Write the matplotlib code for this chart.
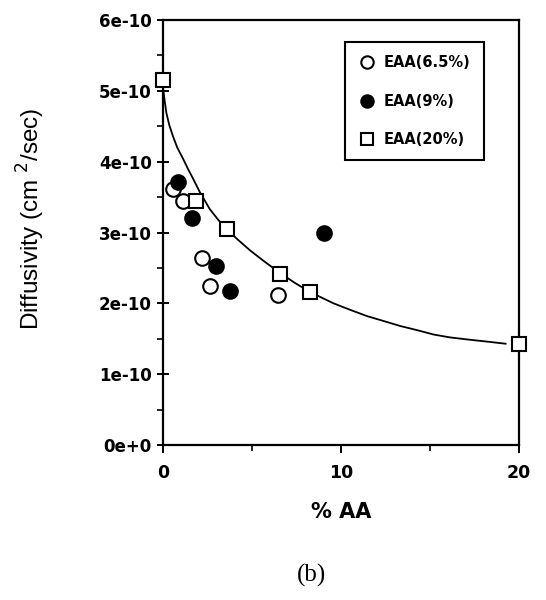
"""
Diffusivity vs % AA for three EAA grades, panel (b).
"""

import matplotlib

matplotlib.use("Agg")
import matplotlib.pyplot as plt

# Data, diffusivity in units of 1e-10 cm^2/sec
aa_65 = [0.56, 1.13, 2.22, 2.63, 6.48]
d_65 = [3.61, 3.44, 2.64, 2.25, 2.12]

aa_9 = [0.85, 1.65, 3.0, 3.76, 9.05]
d_9 = [3.71, 3.21, 2.53, 2.18, 2.99]

aa_20 = [0.0, 1.88, 3.57, 6.57, 8.26, 20.0]
d_20 = [5.15, 3.44, 3.05, 2.41, 2.16, 1.43]

# fitted curve as drawn in the figure
fit_aa = [0.0, 0.05, 0.1, 0.19, 0.35, 0.56, 0.8, 1.13, 1.4, 1.69, 2.07, 2.63,
          3.1, 3.57, 4.2, 4.88, 5.7, 6.57, 7.4, 8.26, 9.58, 10.5, 11.46, 12.4,
          13.33, 14.3, 15.2, 16.1, 17.1, 18.2, 19.25]
fit_d = [5.05, 4.95, 4.85, 4.69, 4.52, 4.36, 4.2, 4.04, 3.9, 3.76, 3.57, 3.33,
         3.18, 3.05, 2.9, 2.75, 2.59, 2.43, 2.29, 2.16, 2.0, 1.91, 1.82, 1.75,
         1.68, 1.62, 1.56, 1.52, 1.49, 1.46, 1.43]

# axis ticks
x_ticks = [0, 10, 20]
x_minor = [5, 15]
y_ticks = [0, 1, 2, 3, 4, 5, 6]
y_minor = [0.5, 1.5, 2.5, 3.5, 4.5, 5.5]
y_labels = ["0e+0", "1e-10", "2e-10", "3e-10", "4e-10", "5e-10", "6e-10"]

fig = plt.figure(figsize=(5.46, 6.0), dpi=100)
ax = fig.add_axes([0.2985, 0.2583, 0.652, 0.7084])

ax.plot(fit_aa, fit_d, color="black", lw=1.3, zorder=2)

mk = dict(markersize=10.5, markeredgewidth=1.5, markeredgecolor="black",
          linestyle="none", clip_on=False, zorder=3)
ax.plot(aa_65, d_65, marker="o", markerfacecolor="white",
        label="EAA(6.5%)", **mk)
ax.plot(aa_9, d_9, marker="o", markerfacecolor="black",
        label="EAA(9%)", **mk)
ax.plot(aa_20, d_20, marker="s", markerfacecolor="white",
        label="EAA(20%)", **mk)

ax.set_xlim(0, 20)
ax.set_ylim(0, 6)

ax.set_xticks(x_ticks)
ax.set_xticks(x_minor, minor=True)
ax.set_yticks(y_ticks, labels=y_labels)
ax.set_yticks(y_minor, minor=True)

for s in ax.spines.values():
    s.set_linewidth(1.6)

ax.tick_params(axis="both", which="major", direction="inout", length=9,
               width=1.4, labelsize=12)
ax.tick_params(axis="both", which="minor", direction="out", length=4, width=1.2)
ax.tick_params(axis="x", which="major", direction="out", length=6, pad=8,
               labelsize=12.5)
for lab in ax.get_xticklabels() + ax.get_yticklabels():
    lab.set_fontweight("bold")

ax.set_xlabel("% AA", fontsize=15, fontweight="bold", labelpad=14)
fig.text(0.057, 0.635, "Diffusivity (cm $^{2}$/sec)", rotation=90,
         ha="center", va="center", fontsize=17.5, family="Liberation Sans")

leg = ax.legend(loc="upper left", bbox_to_anchor=(0.49, 0.965),
                frameon=True, fancybox=False, edgecolor="black", framealpha=1,
                labelspacing=1.6, handletextpad=0.6,
                borderpad=0.9, handlelength=1.2, markerscale=0.85,
                prop={"weight": "bold", "size": 10.5})
leg.get_frame().set_linewidth(1.5)

fig.text(0.571, 0.022, "(b)", ha="center", va="bottom", fontsize=18,
         family="Liberation Serif")

plt.savefig("out.png", dpi=100)
plt.close()
